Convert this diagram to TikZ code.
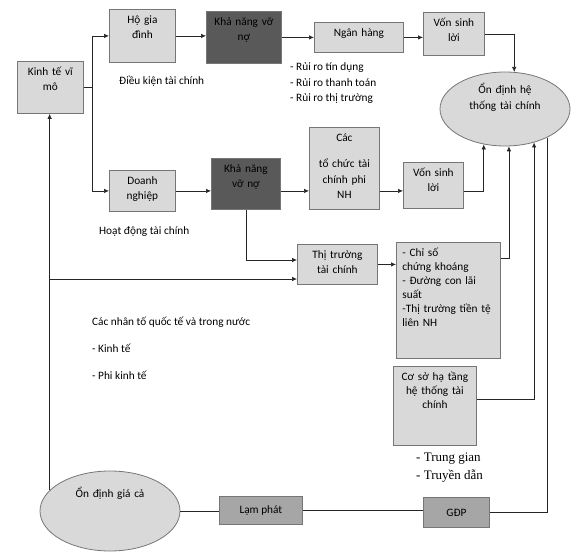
\documentclass[tikz,border=0pt]{standalone}
\usepackage{fontspec}
\setmainfont{Carlito}
\newfontfamily\fonttimes{Liberation Serif}
\usetikzlibrary{arrows.meta,shapes.geometric}
\definecolor{xamnhat}{HTML}{D9D9D9}
\definecolor{xamvua}{HTML}{A6A6A6}
\definecolor{xamdam}{HTML}{595959}
\definecolor{vien}{HTML}{767676}
\definecolor{net}{HTML}{262626}
\tikzset{
  khung/.style={draw=vien, line width=0.8pt, anchor=north west, inner xsep=2pt, inner ysep=6pt, text height=8pt, align=center},
  hop/.style={khung, fill=xamnhat},
  hopdam/.style={khung, fill=xamdam},
  hopvua/.style={draw=vien, line width=0.8pt, fill=xamvua, anchor=north west, inner sep=2pt},
  elip/.style={ellipse, draw=vien, line width=0.8pt, fill=xamnhat, inner sep=0pt, text height=8pt, align=center},
  duong/.style={line width=0.7pt, draw=net},
  muiten/.style={duong, -{Latex[length=5pt,width=4.5pt]}},
  chu/.style={anchor=west, inner sep=0pt},
}
\begin{document}
\begin{tikzpicture}[x=1pt,y=-1pt,font=\fontsize{11.3}{15.5}\selectfont]
\useasboundingbox (0,0) rectangle (581,559);
% Hang tren
\node[hop, text width=62pt, text depth=32pt] (kinhte) at (17,61) {Kinh tế vĩ\\mô};
\node[hop, text width=62pt, text depth=33pt] (hogiadinh) at (109,9) {Hộ gia\\đình};
\node[hopdam, text width=71pt, text depth=32pt] (knvn1) at (206,11) {Khả năng vỡ\\nợ};
\node[hop, text width=85pt, text depth=10pt] (nganhang) at (314,22) {Ngân hàng};
\node[hop, text width=57pt, text depth=23pt] (vonsinhloi1) at (423,12) {Vốn sinh\\lời};
\node[elip, text width=90pt, text depth=38pt, minimum width=130pt, minimum height=74pt] (htc) at (505,109) {Ổn định hệ\\thống tài chính};
% Hang giua
\node[hop, text width=62pt, text depth=21pt] (doanhnghiep) at (109,170) {Doanh\\nghiệp};
\node[hopdam, text width=65pt, text depth=31pt] (knvn2) at (211,158) {Khả năng\\vỡ nợ};
\node[hop, text width=66pt, text depth=62pt] (tochuc) at (309,127) {Các\\[11pt]tổ chức tài\\chính phi\\NH};
\node[hop, text width=56pt, text depth=26pt] (vonsinhloi2) at (403,162) {Vốn sinh\\lời};
\node[hop, text width=76pt, text depth=20pt] (thitruong) at (297,244) {Thị trường\\tài chính};
\node[hop, font=\fontsize{11.3}{14}\selectfont, align=left, inner xsep=6pt, text width=92pt, text depth=96pt] (chiso) at (396,242) {- Chỉ số\\chứng khoáng\\- Đường con lãi\\suất\\-Thị trường tiền tệ\\liên NH};
\node[hop, font=\fontsize{11.3}{14}\selectfont, text width=79pt, text depth=59pt] (coso) at (393,366) {Cơ sở hạ tầng\\hệ thống tài\\chính};
% Hang duoi
\node[elip, text width=90pt, text depth=36pt, minimum width=140pt, minimum height=80pt] (giaca) at (110,511) {Ổn định giá cả};
\node[hopvua, minimum width=83pt, minimum height=28pt] (lamphat) at (219,496) {Lạm phát};
\node[hopvua, minimum width=66pt, minimum height=30pt] (gdp) at (423,497) {GĐP};
% Chu
\node[chu] (dieukien) at (119,81) {Điều kiện tài chính};
\node[chu, align=left] (ruiro) at (290,83.5) {- Rủi ro tín dụng\\- Rủi ro thanh toán\\- Rủi ro thị trường};
\node[chu] (hoatdong) at (99,232) {Hoạt động tài chính};
\node[chu] (nhanto) at (92,322) {Các nhân tố quốc tế và trong nước};
\node[chu] (kinhtechu) at (92,348) {- Kinh tế};
\node[chu] (phikinhte) at (92,375) {- Phi kinh tế};
\node[chu, align=left, font=\fonttimes\fontsize{13}{18}\selectfont] (trunggian) at (416,468) {- Trung gian\\- Truyền dẫn};
% Mui ten
\coordinate (re) at ([xshift=9pt]kinhte.east);
\coordinate (hang2) at (doanhnghiep.east);
\coordinate (tt1) at ([yshift=-16pt]thitruong.north west);
\coordinate (tt2) at ([yshift=-35pt]thitruong.north west);
\draw[duong] (kinhte.east) -- (re);
\draw[muiten] (re) |- (hogiadinh.west);
\draw[muiten] (re) |- (doanhnghiep.west);
\draw[muiten] (hogiadinh.east) -- (hogiadinh.east -| knvn1.west);
\draw[muiten] (knvn1.east) -- (knvn1.east -| nganhang.west);
\draw[muiten] (nganhang.east) -- (nganhang.east -| vonsinhloi1.west);
\draw[muiten] (vonsinhloi1.east) -| (htc.76);
\draw[muiten] (hang2) -- (hang2 -| knvn2.west);
\draw[muiten] (hang2 -| knvn2.east) -- (hang2 -| tochuc.west);
\draw[muiten] (hang2 -| tochuc.east) -- (hang2 -| vonsinhloi2.west);
\draw[muiten] (hang2 -| vonsinhloi2.east) -| (htc.239);
\draw[muiten] (knvn2.south) |- (tt1);
\draw[muiten] (giaca.161 |- tt2) -- (tt2);
\draw[muiten] (giaca.161) -- (giaca.161 |- kinhte.south);
\draw[muiten] (thitruong.east) -- (thitruong.east -| chiso.west);
\draw[muiten] ([yshift=-16pt]chiso.north east) -| (htc.276);
\draw[muiten] ([yshift=-33pt]coso.north east) -| (htc.311);
\draw[duong] (giaca.east) -- (giaca.east -| lamphat.west);
\draw[duong] (lamphat.east) -- (lamphat.east -| gdp.west);
\draw[duong] (gdp.east) -| (htc.326);
\end{tikzpicture}
\end{document}
